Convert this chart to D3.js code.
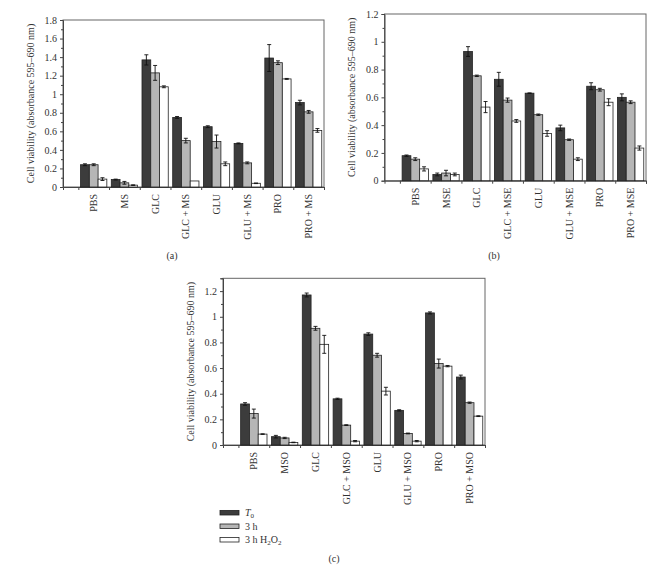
<!DOCTYPE html>
<html><head><meta charset="utf-8">
<script src="https://cdn.jsdelivr.net/npm/d3@7"></script>
<style>
body{margin:0;background:#fff;}
svg{display:block;}
text{font-family:"Liberation Serif","Times New Roman",serif;fill:#333;}
</style></head>
<body><svg id="chart" width="669" height="571"></svg>
<script>
// ---- data ----
const seriesNames = ["T0", "3 h", "3 h H2O2"];
const catsA = ["PBS","MS","GLC","GLC + MS","GLU","GLU + MS","PRO","PRO + MS"];
const t0A   = [0.24,0.08,1.37,0.75,0.65,0.47,1.39,0.91];
const h3A   = [0.24,0.045,1.23,0.50,0.49,0.26,1.34,0.81];
const h2oA  = [0.085,0.02,1.08,0.065,0.25,0.04,1.165,0.61];
const t0AErr  = [0.01,0.005,0.055,0.01,0.01,0.005,0.145,0.025];
const h3AErr  = [0.01,0.015,0.08,0.025,0.07,0.01,0.02,0.015];
const h2oAErr = [0.015,0.003,0.01,0,0.02,0.003,0.005,0.02];
const ticksA = [0,0.2,0.4,0.6,0.8,1,1.2,1.4,1.6,1.8];

const catsB = ["PBS","MSE","GLC","GLC + MSE","GLU","GLU + MSE","PRO","PRO + MSE"];
const t0B   = [0.18,0.045,0.93,0.73,0.63,0.38,0.68,0.60];
const h3B   = [0.155,0.055,0.755,0.58,0.475,0.295,0.655,0.565];
const h2oB  = [0.085,0.045,0.53,0.43,0.34,0.155,0.565,0.235];
const t0BErr  = [0.005,0.01,0.035,0.05,0.002,0.02,0.025,0.025];
const h3BErr  = [0.01,0.02,0.005,0.015,0.005,0.005,0.01,0.01];
const h2oBErr = [0.015,0.01,0.04,0.01,0.02,0.01,0.025,0.015];
const ticksB = [0,0.2,0.4,0.6,0.8,1,1.2];

const catsC = ["PBS","MSO","GLC","GLC + MSO","GLU","GLU + MSO","PRO","PRO + MSO"];
const t0C   = [0.32,0.065,1.17,0.36,0.865,0.27,1.03,0.53];
const h3C   = [0.245,0.055,0.91,0.155,0.70,0.09,0.635,0.33];
const h2oC  = [0.085,0.02,0.785,0.03,0.42,0.03,0.615,0.225];
const t0CErr  = [0.01,0.01,0.015,0.005,0.01,0.005,0.008,0.015];
const h3CErr  = [0.035,0.005,0.015,0.003,0.015,0.003,0.035,0.005];
const h2oCErr = [0.002,0.002,0.07,0.005,0.03,0.005,0.005,0.003];
const ticksC = [0,0.2,0.4,0.6,0.8,1,1.2];

// ---- style ----
const fills = ["#3c3c3c","#b6b6b6","#ffffff"];
const svg = d3.select("#chart");
const FS = 10;

function panel(cfg){
  const g = svg.append("g");
  const x = d3.scaleLinear().domain([0,8.5]).range([cfg.x0,cfg.x1]);
  const y = d3.scaleLinear().domain([0,cfg.ymax]).range([cfg.y1,cfg.y0]);
  const bw = x(0.285)-x(0);
  g.append("rect").attr("x",cfg.x0).attr("y",cfg.y0)
    .attr("width",cfg.x1-cfg.x0).attr("height",cfg.y1-cfg.y0)
    .attr("fill","none").attr("stroke","#666").attr("stroke-width",1);
  const ya = g.append("g").attr("transform",`translate(${cfg.x0},0)`)
    .call(d3.axisLeft(y).tickValues(cfg.ticks).tickSize(3).tickPadding(3).tickFormat(d=>String(d)));
  ya.select(".domain").attr("stroke","#444");
  ya.selectAll(".tick line").attr("stroke","#444");
  ya.selectAll("text").attr("font-size",FS).attr("font-family","Liberation Serif").attr("fill","#333");
  const minors = cfg.ticks.slice(0,-1).map(t=>+(t+0.1).toFixed(2));
  if (cfg.ymax > cfg.ticks[cfg.ticks.length-1]+0.05) minors.push(+(cfg.ticks[cfg.ticks.length-1]+0.1).toFixed(2));
  const ym = g.append("g").attr("transform",`translate(${cfg.x0},0)`)
    .call(d3.axisLeft(y).tickValues(minors).tickSize(2).tickFormat(""));
  ym.select(".domain").remove();
  ym.selectAll(".tick line").attr("stroke","#444");
  const xa = g.append("g").attr("transform",`translate(0,${cfg.y1})`)
    .call(d3.axisBottom(x).tickValues([0.5,1.5,2.5,3.5,4.5,5.5,6.5,7.5,8.5]).tickSize(3).tickFormat(""));
  xa.select(".domain").attr("stroke","#444");
  xa.selectAll(".tick line").attr("stroke","#444");
  cfg.cats.forEach((c,i)=>{
    g.append("text").attr("transform",`translate(${x(i+1)+3.5},${cfg.y1+7}) rotate(-90)`)
      .attr("text-anchor","end").attr("font-size",FS).text(c);
  });
  const series = [cfg.t0,cfg.h3,cfg.h2o];
  const errs = [cfg.t0e,cfg.h3e,cfg.h2oe];
  series.forEach((vals,s)=>{
    vals.forEach((v,i)=>{
      const cx = x(i+1+(s-1)*0.285);
      g.append("rect").attr("x",cx-bw/2).attr("y",y(v)).attr("width",bw)
        .attr("height",y(0)-y(v)).attr("fill",fills[s]).attr("stroke","#222").attr("stroke-width",0.8);
      const e = errs[s][i];
      if (e>0){
        const ea = g.append("g").attr("stroke","#111").attr("stroke-width",0.9);
        ea.append("line").attr("x1",cx).attr("x2",cx).attr("y1",y(v-e)).attr("y2",y(v+e));
        ea.append("line").attr("x1",cx-2).attr("x2",cx+2).attr("y1",y(v+e)).attr("y2",y(v+e));
        ea.append("line").attr("x1",cx-2).attr("x2",cx+2).attr("y1",y(v-e)).attr("y2",y(v-e));
      }
    });
  });
  g.append("text").attr("transform",`translate(${cfg.tx},${(cfg.y0+cfg.y1)/2}) rotate(-90)`)
    .attr("text-anchor","middle").attr("font-size",FS).text("Cell viability (absorbance 595–690 nm)");
  g.append("text").attr("x",cfg.capx).attr("y",cfg.capy).attr("text-anchor","middle")
    .attr("font-size",FS).text(cfg.cap);
}

panel({x0:63,x1:324,y0:20,y1:187,ymax:1.8,ticks:ticksA,cats:catsA,t0:t0A,h3:h3A,h2o:h2oA,
  t0e:t0AErr,h3e:h3AErr,h2oe:h2oAErr,tx:34,capx:172,capy:259,cap:"(a)"});
panel({x0:384.5,x1:646,y0:14,y1:180.7,ymax:1.2,ticks:ticksB,cats:catsB,t0:t0B,h3:h3B,h2o:h2oB,
  t0e:t0BErr,h3e:h3BErr,h2oe:h2oBErr,tx:355,capx:494,capy:259,cap:"(b)"});
panel({x0:223,x1:485,y0:278.3,y1:445,ymax:1.3,ticks:ticksC,cats:catsC,t0:t0C,h3:h3C,h2o:h2oC,
  t0e:t0CErr,h3e:h3CErr,h2oe:h2oCErr,tx:194,capx:334,capy:562,cap:"(c)"});

// legend
const lg = svg.append("g");
const ly = [512.7,526.3,539.7];
seriesNames.forEach((n,i)=>{
  lg.append("rect").attr("x",220).attr("y",ly[i]-2.3).attr("width",19).attr("height",4.6)
    .attr("fill",fills[i]).attr("stroke","#222").attr("stroke-width",0.8);
});
const t1 = lg.append("text").attr("x",245).attr("y",ly[0]+3.3).attr("font-size",FS);
t1.append("tspan").attr("font-style","italic").text("T");
t1.append("tspan").attr("font-size",7).attr("dy",2).text("0");
lg.append("text").attr("x",245).attr("y",ly[1]+3.3).attr("font-size",FS).text("3 h");
const t3 = lg.append("text").attr("x",245).attr("y",ly[2]+3.3).attr("font-size",FS);
t3.append("tspan").text("3 h H");
t3.append("tspan").attr("font-size",7).attr("dy",2).text("2");
t3.append("tspan").attr("dy",-2).text("O");
t3.append("tspan").attr("font-size",7).attr("dy",2).text("2");
</script></body></html>
